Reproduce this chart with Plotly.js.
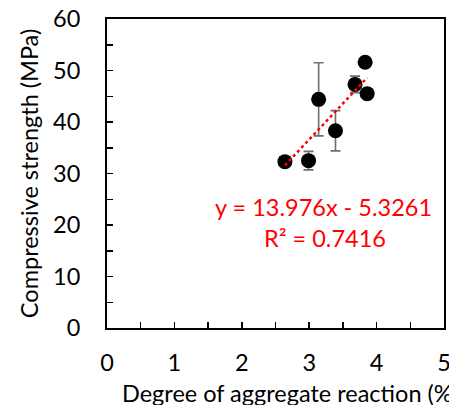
<!DOCTYPE html>
<html><head><meta charset="utf-8">
<script src="https://cdn.plot.ly/plotly-3.0.1.min.js"></script>
<style>html,body{margin:0;padding:0;background:#fff}#chart{width:449px;height:405px}</style>
</head><body><div id="chart"></div>
<script>
const reaction = [2.64, 2.99, 3.14, 3.39, 3.68, 3.83, 3.86];
const strength = [32.3, 32.5, 44.4, 38.3, 47.3, 51.6, 45.5];
const strengthErr = [0, 1.8, 7.1, 3.9, 1.6, 0, 0];
const slope = 13.976;
const intercept = -5.3261;
const rSquared = 0.7416;
const xTitle = "Degree of aggregate reaction (%)";
const yTitle = "Compressive strength (MPa)";

const font = "Lato, 'Open Sans', sans-serif";
const fs = 23.5;
const xMin = Math.min(...reaction), xMax = Math.max(...reaction);
const trendX = [xMin, xMax];
const trendY = trendX.map(x => slope * x + intercept);

const traces = [
  {x: reaction, y: strength, type: 'scatter', mode: 'markers',
   marker: {color: '#000', size: 15},
   error_y: {type: 'data', array: strengthErr, visible: true, color: '#6e6e6e', thickness: 1.6, width: 5},
   showlegend: false, hoverinfo: 'skip'},
  {x: trendX, y: trendY, type: 'scatter', mode: 'lines',
   line: {color: '#ff0000', width: 2.5, dash: 'dot'}, showlegend: false, hoverinfo: 'skip'}
];

const layout = {
  width: 449, height: 405,
  margin: {l: 107, r: 5, t: 19, b: 77},
  paper_bgcolor: '#fff', plot_bgcolor: '#fff',
  font: {family: font, size: fs, color: '#000'},
  xaxis: {range: [0, 5], dtick: 1, tick0: 0, ticks: 'inside', ticklen: 6, tickwidth: 1.5,
          tickcolor: '#000', showgrid: false, zeroline: false, showline: true, linecolor: '#000',
          linewidth: 2, mirror: true, ticklabelstandoff: 13, ticklabeloverflow: 'allow',
          minor: {dtick: 0.5, ticks: 'inside', ticklen: 6, tickwidth: 1.5, tickcolor: '#000', showgrid: false}},
  yaxis: {range: [0, 60], dtick: 10, tick0: 0, ticks: 'inside', ticklen: 6, tickwidth: 1.5,
          tickcolor: '#000', showgrid: false, zeroline: false, showline: true, linecolor: '#000',
          linewidth: 2, mirror: true, ticklabelstandoff: 20,
          minor: {dtick: 5, ticks: 'inside', ticklen: 6, tickwidth: 1.5, tickcolor: '#000', showgrid: false},
          title: {text: yTitle, font: {family: font, size: fs}, standoff: 8}},
  annotations: [
    {xref: 'paper', yref: 'paper', x: 0.0386, y: -0.21, xanchor: 'left', yanchor: 'middle', showarrow: false,
     text: xTitle, font: {family: font, size: fs, color: '#000'}},
    {xref: 'paper', yref: 'paper', x: 0.641, y: 0.392, xanchor: 'center', yanchor: 'middle', showarrow: false,
     text: 'y = ' + slope.toFixed(3) + 'x - ' + Math.abs(intercept).toFixed(4), font: {family: font, size: fs, color: '#ff0000'}},
    {xref: 'paper', yref: 'paper', x: 0.647, y: 0.291, xanchor: 'center', yanchor: 'middle', showarrow: false,
     text: 'R² = ' + rSquared.toFixed(4), font: {family: font, size: fs, color: '#ff0000'}}
  ]
};
Plotly.newPlot('chart', traces, layout, {displayModeBar: false, staticPlot: true});
</script></body></html>
